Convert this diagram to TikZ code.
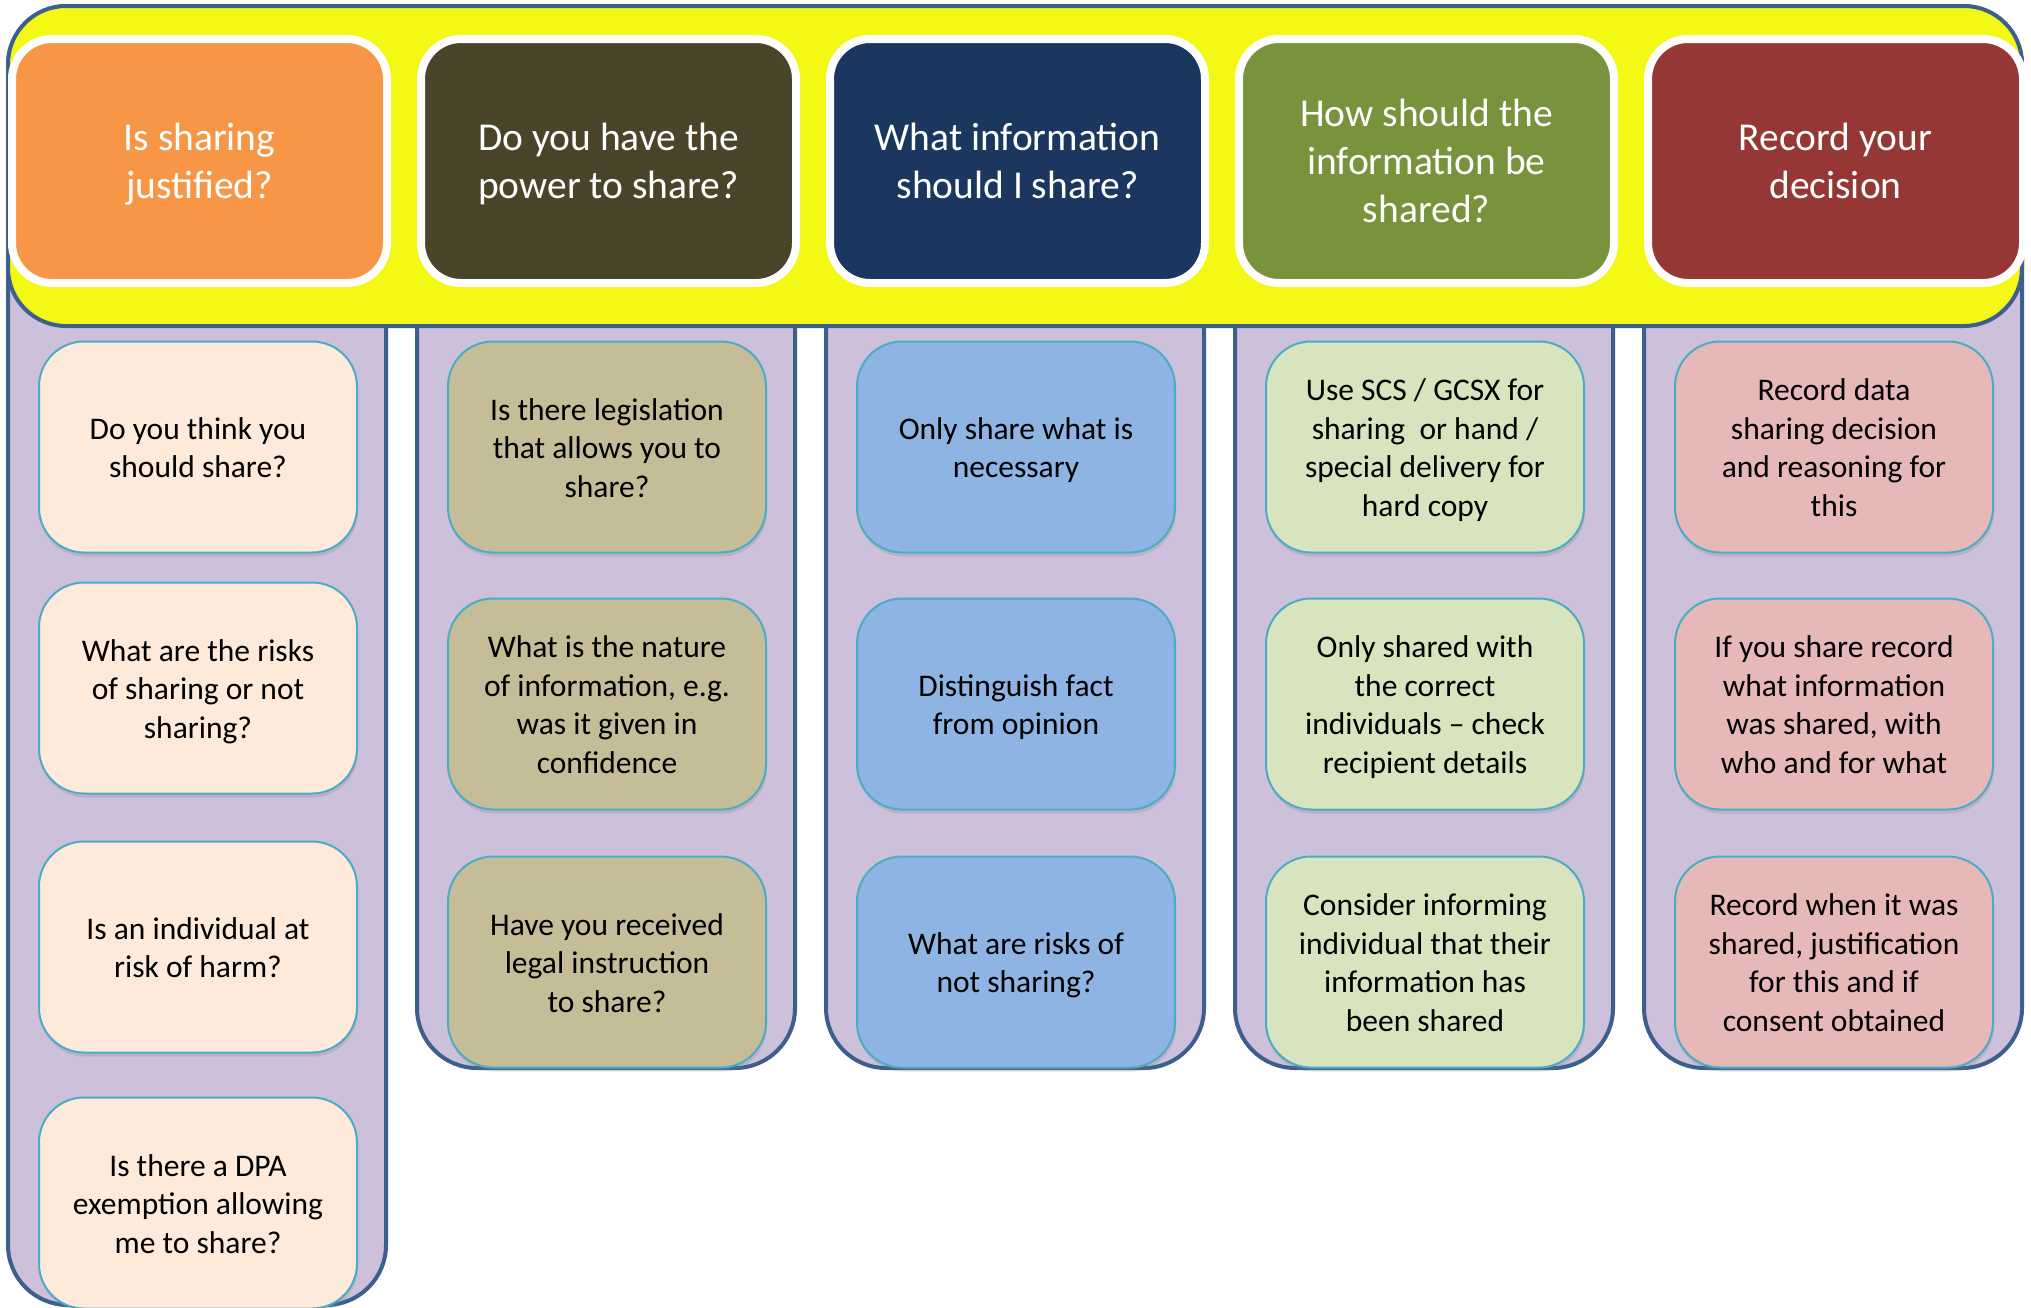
\documentclass[tikz,border=0pt]{standalone}
\usepackage{fontspec}
\setmainfont{Carlito}
\usetikzlibrary{shadows}
\newcommand\tstr{\rule{0pt}{\dimexpr\ht\strutbox+8pt\relax}}
\definecolor{bandyellow}{HTML}{F3F815}
\definecolor{colpurple}{HTML}{CCC0DA}
\definecolor{edgeblue}{HTML}{3C5F8D}
\definecolor{hOrange}{HTML}{F79646}
\definecolor{hOlive}{HTML}{4A452A}
\definecolor{hNavy}{HTML}{1B3760}
\definecolor{hGreen}{HTML}{77933C}
\definecolor{hRed}{HTML}{953735}
\definecolor{bPeach}{HTML}{FDEADA}
\definecolor{bKhaki}{HTML}{C4BD97}
\definecolor{bBlue}{HTML}{8DB4E2}
\definecolor{bGreen}{HTML}{D7E4BD}
\definecolor{bPink}{HTML}{E6B9B8}
\definecolor{boxedge}{HTML}{4BACC6}
\begin{document}
\begin{tikzpicture}[x=1pt,y=-1pt,
  colbox/.style={draw=edgeblue, line width=4pt, fill=colpurple, rounded corners=60pt},
  band/.style={draw=edgeblue, line width=4pt, fill=bandyellow, rounded corners=58pt},
  hdr/.style={draw=white, line width=8pt, rounded corners=40pt,
    minimum width=375pt, minimum height=244pt, inner sep=0pt, text=white,
    align=center, font=\fontsize{39.5}{48}\selectfont,
    drop shadow={shadow xshift=1pt, shadow yshift=-3pt, opacity=0.18}},
  itembox/.style={draw=boxedge, line width=2pt, rounded corners=45pt,
    minimum width=318pt, minimum height=211pt, inner sep=0pt, text=black,
    align=center, font=\fontsize{31.5}{38.5}\selectfont,
    drop shadow={shadow xshift=1pt, shadow yshift=-4pt, opacity=0.22}}]
\useasboundingbox (0,0) rectangle (2031,1307);
\clip (0,0) rectangle (2031,1307);
\fill[white] (0,0) rectangle (2031,1307);
% purple columns
\draw[colbox] (8,6) rectangle (386,1305);
\foreach \i in {1,2,3,4} {
  \draw[colbox] ({8+409*\i},6) rectangle ({386+409*\i},1068);
}
% yellow band
\draw[band] (8,6) rectangle (2022,326);
% headers
\node[hdr, fill=hOrange] (h1) at (199.5,161) {\tstr Is sharing\\justified?\strut};
\node[hdr, fill=hOlive] (h2) at (608.5,161) {\tstr Do you have the\\power to share?\strut};
\node[hdr, fill=hNavy] (h3) at (1017.5,161) {\tstr What information\\should I share?\strut};
\node[hdr, fill=hGreen] (h4) at (1426.5,161) {\tstr How should the\\information be\\shared?\strut};
\node[hdr, fill=hRed] (h5) at (1835.5,161) {\tstr Record your\\decision\strut};
% column 1
\node[itembox, fill=bPeach] (a1) at (198,447) {\tstr Do you think you\\should share?\strut};
\node[itembox, fill=bPeach] (a2) at (198,688) {\tstr What are the risks\\of sharing or not\\sharing?\strut};
\node[itembox, fill=bPeach] (a3) at (198,947) {\tstr Is an individual at\\risk of harm?\strut};
\node[itembox, fill=bPeach] (a4) at (198,1203) {\tstr Is there a DPA\\exemption allowing\\me to share?\strut};
% column 2
\node[itembox, fill=bKhaki] (b1) at (607,447) {\tstr Is there legislation\\that allows you to\\share?\strut};
\node[itembox, fill=bKhaki] (b2) at (607,704) {\tstr What is the nature\\of information, e.g.\\was it given in\\confidence\strut};
\node[itembox, fill=bKhaki] (b3) at (607,962) {\tstr Have you received\\legal instruction\\to share?\strut};
% column 3
\node[itembox, fill=bBlue] (c1) at (1016,447) {\tstr Only share what is\\necessary\strut};
\node[itembox, fill=bBlue] (c2) at (1016,704) {\tstr Distinguish fact\\from opinion\strut};
\node[itembox, fill=bBlue] (c3) at (1016,962) {\tstr What are risks of\\not sharing?\strut};
% column 4
\node[itembox, fill=bGreen] (d1) at (1425,447) {\tstr Use SCS / GCSX for\\sharing\ \ or hand /\\special delivery for\\hard copy\strut};
\node[itembox, fill=bGreen] (d2) at (1425,704) {\tstr Only shared with\\the correct\\individuals – check\\recipient details\strut};
\node[itembox, fill=bGreen] (d3) at (1425,962) {\tstr Consider informing\\individual that their\\information has\\been shared\strut};
% column 5
\node[itembox, fill=bPink] (e1) at (1834,447) {\tstr Record data\\sharing decision\\and reasoning for\\this\strut};
\node[itembox, fill=bPink] (e2) at (1834,704) {\tstr If you share record\\what information\\was shared, with\\who and for what\strut};
\node[itembox, fill=bPink] (e3) at (1834,962) {\tstr Record when it was\\shared, justification\\for this and if\\consent obtained\strut};
\end{tikzpicture}
\end{document}
